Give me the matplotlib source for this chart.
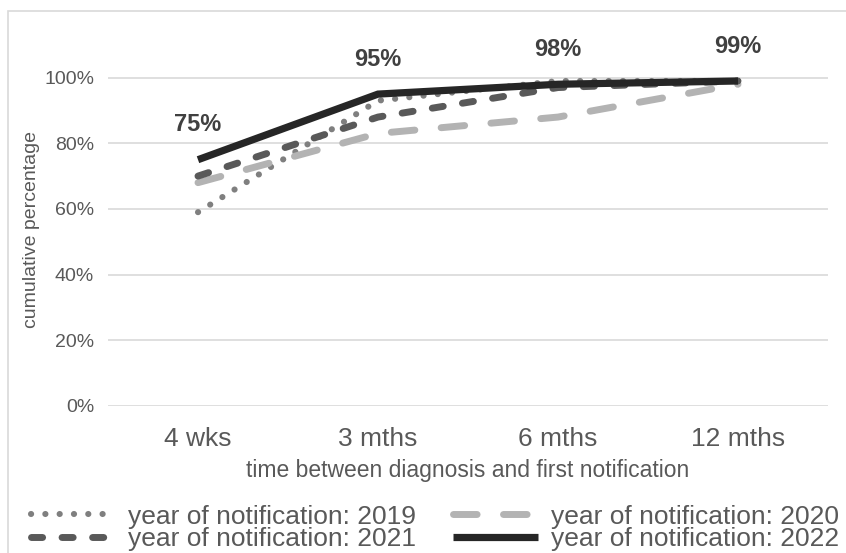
import matplotlib
matplotlib.use("Agg")
import matplotlib.pyplot as plt
from matplotlib.patches import Rectangle
from matplotlib.ticker import FixedLocator, FuncFormatter

plt.rcParams["font.family"] = ["Liberation Sans", "DejaVu Sans"]
plt.rcParams["lines.scale_dashes"] = False

# Data
categories = ["4 wks", "3 mths", "6 mths", "12 mths"]
pct_2019 = [59, 93, 99, 99]
pct_2020 = [68, 83, 88, 98]
pct_2021 = [70, 88, 97, 99]
pct_2022 = [75, 95, 98, 99]
yticks = [0, 20, 40, 60, 80, 100]

TEXT = "#595959"
W, H = 846, 553
fig = plt.figure(figsize=(W / 100, H / 100), dpi=100)

# chart border (light frame partly outside the canvas)
fig.patches.append(Rectangle((8 / W, -0.1), 1.2, 1.1 - 11 / H, transform=fig.transFigure,
                             fill=False, edgecolor="#d9d9d9", linewidth=1.2, zorder=0))

ax = fig.add_axes([108 / W, 147.3 / H, 720 / W, 393.6 / H])
ax.set_xlim(-0.5, 3.5)
ax.set_ylim(0, 120)
for s in ax.spines.values():
    s.set_visible(False)

ax.yaxis.set_major_locator(FixedLocator(yticks))
ax.yaxis.set_major_formatter(FuncFormatter(lambda v, p: f"{int(v)}%"))
ax.grid(axis="y", color="#d9d9d9", linewidth=1.2)
ax.set_axisbelow(True)
ax.tick_params(axis="y", length=0, pad=10, labelsize=14, labelcolor=TEXT)
ax.set_xticks(range(len(categories)))
ax.set_xticklabels(categories)
ax.tick_params(axis="x", length=0, pad=15, labelsize=19, labelcolor=TEXT)

x = list(range(len(categories)))
lw = 5.0
l2019, = ax.plot(x, pct_2019, color="#7f7f7f", linewidth=4.4, dashes=(0.1, 10.2),
                 dash_capstyle="round", solid_capstyle="round",
                 label="year of notification: 2019")
l2020, = ax.plot(x, pct_2020, color="#b3b3b3", linewidth=lw, dashes=(17.0, 19.0),
                 dash_capstyle="round", label="year of notification: 2020")
l2021, = ax.plot(x, pct_2021, color="#595959", linewidth=lw, dashes=(8.0, 14.0),
                 dash_capstyle="round", label="year of notification: 2021")
l2022, = ax.plot(x, pct_2022, color="#262626", linewidth=5.2,
                 solid_capstyle="butt", solid_joinstyle="miter",
                 label="year of notification: 2022")

for xi, v in zip(x, pct_2022):
    ax.annotate(f"{v}%", (xi, v), xytext=(0, 25), textcoords="offset points",
                ha="center", va="center", fontsize=17, fontweight="bold", color="#404040")

ax.set_xlabel("time between diagnosis and first notification", fontsize=16.5,
              color=TEXT, labelpad=6)
fig.text(32 / W, 1 - 230 / H, "cumulative percentage", rotation=90, ha="center",
         va="center", fontsize=14, color=TEXT)

# two columns, filled column-wise: 2019/2020 on the first row, 2021/2022 below
leg = fig.legend(handles=[l2019, l2021, l2020, l2022], ncol=2, loc="center",
                 bbox_to_anchor=(435 / W, 1 - 528 / H), frameon=False,
                 fontsize=19, labelcolor=TEXT, handlelength=3.2, handletextpad=0.5,
                 columnspacing=1.4, labelspacing=-0.05, borderpad=0)

fig.savefig("out.png", dpi=100)
